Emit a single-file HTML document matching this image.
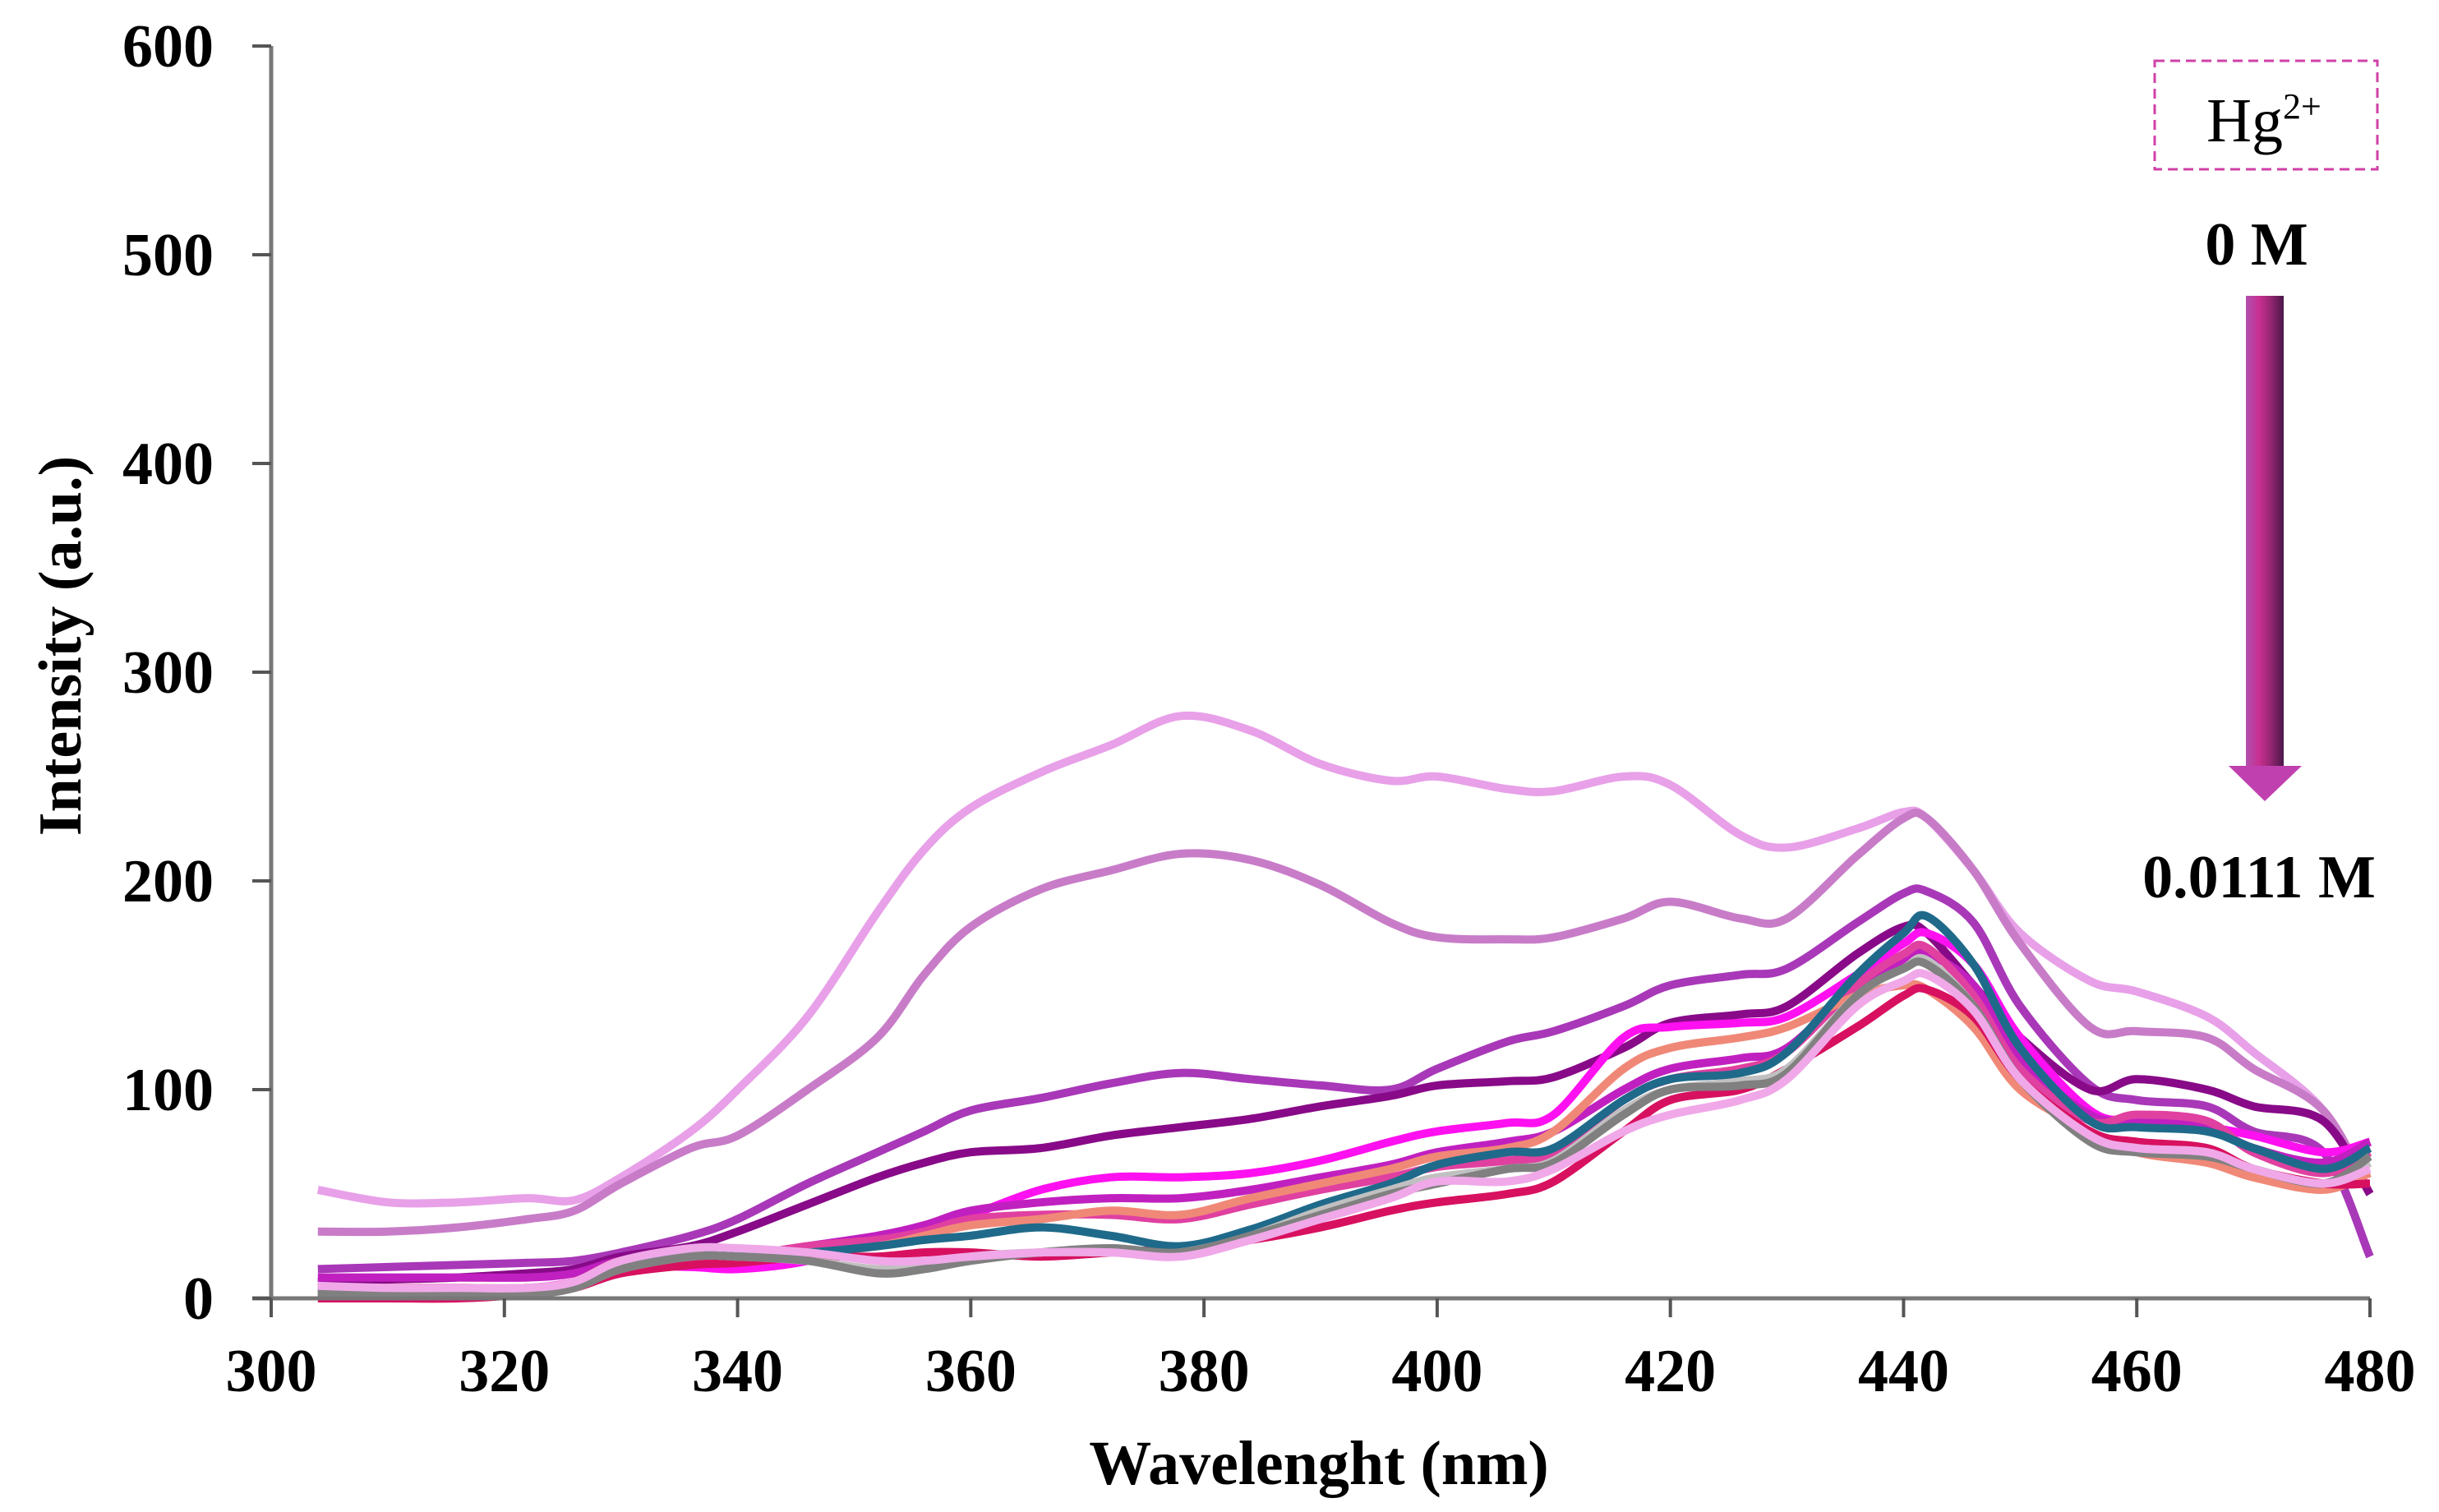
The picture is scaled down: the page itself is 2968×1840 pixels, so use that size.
<!DOCTYPE html>
<html><head><meta charset="utf-8"><style>
html,body{margin:0;padding:0;background:#fff;}
svg{display:block;}
</style></head><body>
<svg id="chart" width="2968" height="1840" viewBox="0 0 2968 1840" xmlns="http://www.w3.org/2000/svg">
<defs>
<linearGradient id="shaft" x1="0" x2="1" y1="0" y2="0">
<stop offset="0" stop-color="#b050b0"/><stop offset="0.35" stop-color="#c83090"/><stop offset="0.6" stop-color="#a02878"/><stop offset="1" stop-color="#4a1848"/>
</linearGradient>
</defs>
<g id="series"></g>
<g id="axes"></g>
<g>
<rect x="2622" y="74" width="271" height="132" fill="none" stroke="#d040a8" stroke-width="3" stroke-dasharray="12,7"/>
<text x="2755" y="172" text-anchor="middle" font-family="Liberation Serif, serif" font-size="76">Hg<tspan font-size="44" dy="-28">2+</tspan></text>
<text x="2746" y="322" text-anchor="middle" font-family="Liberation Serif, serif" font-weight="bold" font-size="74">0 M</text>
<rect x="2733" y="360" width="46" height="575" fill="url(#shaft)"/>
<polygon points="2712,932 2801,932 2756,975" fill="#c040b0"/>
<text x="2749" y="1092" text-anchor="middle" font-family="Liberation Serif, serif" font-weight="bold" font-size="74">0.0111 M</text>
</g>
</svg>
<script>
const wavelengths=[304,310,316,322,326,330,336,340,346,352,356,360,366,372,378,384,390,396,400,406,410,416,420,426,430,436,440,442,446,450,456,460,466,470,476,480];
const s1=[52,46,46,48,47,58,80,100,135,185,215,235,252,265,279,272,256,248,250,244,243,250,246,222,216,225,233,230,205,175,152,147,135,118,90,50];
const s2=[32,32,34,38,42,55,72,78,100,125,155,178,196,205,213,210,198,180,173,172,173,182,190,182,182,212,230,230,205,170,130,128,125,110,90,50];
const s3=[14,15,16,17,18,22,30,38,55,70,80,90,96,103,108,105,102,100,110,123,128,140,150,155,158,180,194,195,180,140,102,95,92,80,70,20];
const s4=[8,9,10,12,14,20,25,32,45,58,65,70,72,78,82,86,92,97,102,104,106,120,132,136,140,165,178,175,150,125,100,105,100,92,85,50];
const s5=[5,5,5,5,8,15,15,14,18,28,35,40,52,58,58,60,66,75,80,84,88,125,130,132,135,155,170,175,160,125,90,85,82,78,70,75];
const s6=[3,3,3,3,6,15,22,22,22,25,28,30,34,30,25,33,45,55,64,70,72,95,105,108,118,155,175,183,160,120,85,82,80,72,62,72];
const s7=[2,2,2,2,5,14,20,20,18,12,14,18,22,24,22,30,40,50,55,62,65,88,100,102,108,145,158,160,140,105,75,70,68,62,55,68];
const s8=[0,0,0,2,5,12,16,17,20,20,22,22,20,22,24,28,34,42,46,50,56,80,95,100,110,130,145,148,135,105,80,75,72,62,55,55];
const s9=[5,5,5,5,8,18,22,22,22,25,30,35,38,42,40,48,55,62,68,72,80,110,120,125,130,145,150,148,130,100,80,70,65,58,52,60];
const s10=[6,5,5,5,8,18,24,24,22,18,18,20,22,22,20,28,38,48,56,56,62,80,88,95,105,140,152,155,138,105,78,72,70,62,55,62];
const s11=[2,2,2,2,5,14,20,20,18,14,16,20,22,22,22,30,42,52,58,62,66,90,100,104,110,145,158,162,140,105,78,72,70,62,55,65];
const s12=[3,3,3,4,8,16,20,20,25,28,32,38,40,40,38,45,52,58,63,66,70,95,105,110,118,150,165,168,145,110,85,88,85,70,60,70];
const s13=[10,10,10,10,12,18,20,20,25,30,35,42,46,48,48,52,58,64,70,75,80,100,110,115,120,150,162,165,150,115,88,85,82,72,65,75];
const seriesList=[s1,s2,s3,s4,s5,s13,s12,s9,s8,s6,s11,s7,s10];
const seriesColors=["#e8a0e8","#c87cc8","#a838b8","#880a88","#ff10f0","#c020c0","#e040a0","#f08878","#d81060","#1f6a8a","#c0c0c0","#808080","#f0a8e8"];
const xTicks=[300,320,340,360,380,400,420,440,460,480];
const yTicks=[0,100,200,300,400,500,600];

const X0=330,X1=2884,Y0=1580,Y1=56;
function xs(v){return X0+(v-300)/(480-300)*(X1-X0);}
function ys(v){return Y0-(v-0)/(600-0)*(Y0-Y1);}
const NS="http://www.w3.org/2000/svg";
function smoothPath(xsArr,ysArr){
  let d="M"+xsArr[0].toFixed(1)+","+ysArr[0].toFixed(1);
  for(let i=0;i<xsArr.length-1;i++){
    const x0=xsArr[Math.max(i-1,0)],y0=ysArr[Math.max(i-1,0)];
    const x1=xsArr[i],y1=ysArr[i],x2=xsArr[i+1],y2=ysArr[i+1];
    const x3=xsArr[Math.min(i+2,xsArr.length-1)],y3=ysArr[Math.min(i+2,xsArr.length-1)];
    const c1x=x1+(x2-x0)/6,c1y=y1+(y2-y0)/6,c2x=x2-(x3-x1)/6,c2y=y2-(y3-y1)/6;
    d+=" C"+c1x.toFixed(1)+","+c1y.toFixed(1)+" "+c2x.toFixed(1)+","+c2y.toFixed(1)+" "+x2.toFixed(1)+","+y2.toFixed(1);
  }
  return d;
}
const gS=document.getElementById('series');
seriesList.forEach((s,i)=>{
  const p=document.createElementNS(NS,'path');
  p.setAttribute('d',smoothPath(wavelengths.map(xs),s.map(ys)));
  p.setAttribute('fill','none');
  p.setAttribute('stroke',seriesColors[i]);
  p.setAttribute('stroke-width','10');
  p.setAttribute('stroke-linejoin','round');
  
  
  gS.appendChild(p);
});
const gA=document.getElementById('axes');
function el(tag,attrs,text){const e=document.createElementNS(NS,tag);for(const k in attrs)e.setAttribute(k,attrs[k]);if(text!==undefined)e.textContent=text;gA.appendChild(e);return e;}
const ya=el('line',{x1:X0,y1:Y1,x2:X0,y2:Y0,stroke:'#777','stroke-width':5});


const xa=el('line',{x1:X0-23,y1:Y0,x2:X1,y2:Y0,stroke:'#777','stroke-width':5});


yTicks.forEach(v=>{
  const t=el('line',{x1:X0-23,y1:ys(v),x2:X0,y2:ys(v),stroke:'#555','stroke-width':4});
  
  
  const l=el('text',{x:260,y:ys(v)+25,'text-anchor':'end','font-family':'Liberation Serif, serif','font-weight':'bold','font-size':74},String(v));
  
  
});
xTicks.forEach(v=>{
  const t=el('line',{x1:xs(v),y1:Y0,x2:xs(v),y2:Y0+23,stroke:'#555','stroke-width':4});
  
  
  const l=el('text',{x:xs(v),y:1693,'text-anchor':'middle','font-family':'Liberation Serif, serif','font-weight':'bold','font-size':74},String(v));
  
  
});
const xt=el('text',{x:1605,y:1806,'text-anchor':'middle','font-family':'Liberation Serif, serif','font-weight':'bold','font-size':76},'Wavelenght (nm)');


const yt=el('text',{x:0,y:0,'text-anchor':'middle','font-family':'Liberation Serif, serif','font-weight':'bold','font-size':74,transform:'translate(98,786) rotate(-90)'},'Intensity (a.u.)');


</script>
</body></html>
